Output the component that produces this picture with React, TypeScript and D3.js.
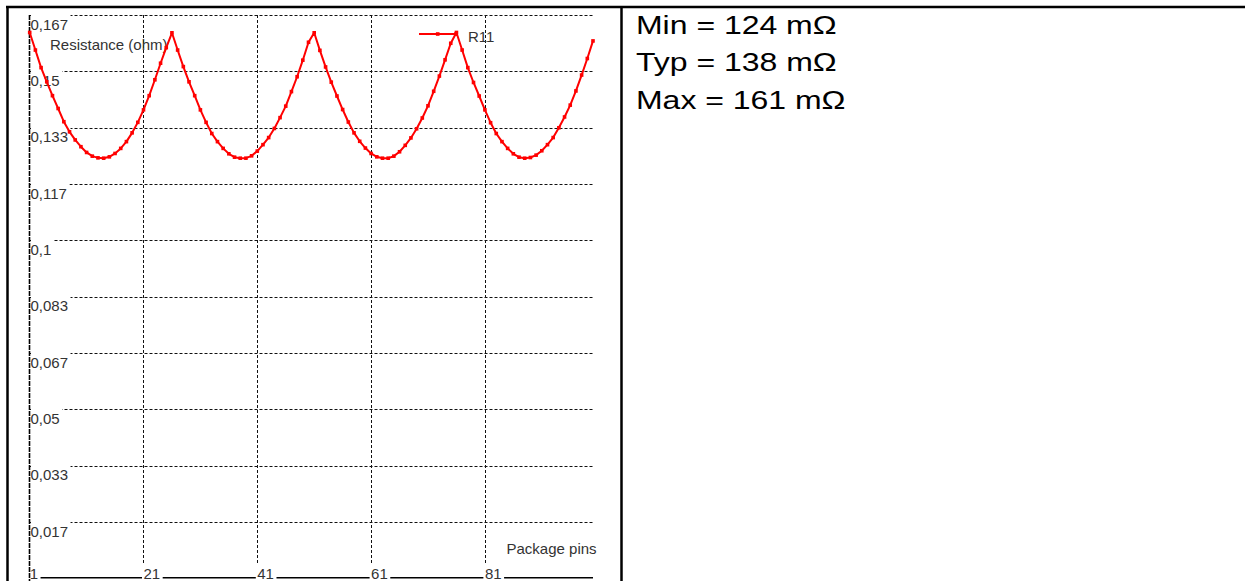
import React from "react";
import * as d3 from "d3";

// ---- data ----
const pins: number[] = [
  1, 2, 3, 4, 5, 6, 7, 8, 9, 10, 11, 12, 13, 14, 15, 16, 17, 18, 19, 20,
  21, 22, 23, 24, 25, 26, 27, 28, 29, 30, 31, 32, 33, 34, 35, 36, 37, 38, 39, 40,
  41, 42, 43, 44, 45, 46, 47, 48, 49, 50, 51, 52, 53, 54, 55, 56, 57, 58, 59, 60,
  61, 62, 63, 64, 65, 66, 67, 68, 69, 70, 71, 72, 73, 74, 75, 76, 77, 78, 79, 80,
  81, 82, 83, 84, 85, 86, 87, 88, 89, 90, 91, 92, 93, 94, 95, 96, 97, 98, 99, 100,
];

const r11: number[] = [
  0.1615, 0.1563, 0.1511, 0.1469, 0.1428, 0.139, 0.1351, 0.1321, 0.1297, 0.1277,
  0.126, 0.1249, 0.1244, 0.1243, 0.1247, 0.1257, 0.1272, 0.1292, 0.1318, 0.1349,
  0.1386, 0.1428, 0.1475, 0.1524, 0.157,
  0.1614, 0.1563, 0.1514, 0.1469, 0.1428, 0.1386, 0.1349, 0.1316, 0.1292, 0.1272,
  0.1256, 0.1246, 0.1243, 0.1243, 0.125, 0.1264, 0.1283, 0.1304, 0.1331, 0.1363,
  0.1397, 0.144, 0.1484, 0.1533, 0.1586,
  0.1614, 0.1562, 0.1513, 0.1468, 0.1427, 0.1387, 0.135, 0.1318, 0.1293, 0.1273,
  0.1257, 0.1247, 0.1243, 0.1243, 0.1249, 0.1262, 0.1281, 0.1303, 0.133, 0.1362,
  0.1398, 0.1441, 0.1486, 0.1534, 0.1583,
  0.1615, 0.1563, 0.1511, 0.1467, 0.1427, 0.1386, 0.1348, 0.1316, 0.1292, 0.1272,
  0.1256, 0.1246, 0.1243, 0.1245, 0.1252, 0.1265, 0.1283, 0.1304, 0.1333, 0.1365,
  0.14, 0.1442, 0.1489, 0.1538, 0.159,
];

const yTickValues: number[] = [
  0.016667, 0.033333, 0.05, 0.066667, 0.083333, 0.1, 0.116667, 0.133333, 0.15, 0.166667,
];
const yTickLabels: string[] = [
  "0,017", "0,033", "0,05", "0,067", "0,083", "0,1", "0,117", "0,133", "0,15", "0,167",
];
const xTickPins: number[] = [1, 21, 41, 61, 81];
const xTickLabels: string[] = ["1", "21", "41", "61", "81"];
const seriesName = "R11";
const yAxisTitle = "Resistance (ohm)";
const xAxisTitle = "Package pins";
const statLines: string[] = ["Min = 124 mΩ", "Typ = 138 mΩ", "Max = 161 mΩ"];

// ---- helpers ----
const FONT = "'Liberation Sans', Arial, sans-serif";
let ctx: CanvasRenderingContext2D | null = null;
function textWidth(s: string, size: number): number {
  if (!ctx) {
    const c = document.createElement("canvas");
    ctx = c.getContext("2d");
  }
  if (!ctx) return s.length * size * 0.55;
  ctx.font = `${size}px 'Liberation Sans', Arial, sans-serif`;
  return ctx.measureText(s).width;
}

export default function App() {
  const W = 1245;
  const H = 581;

  const x = d3.scaleLinear().domain([1, 100]).range([29.7, 593]);
  const y = d3.scaleLinear().domain([0, 0.166667]).range([578.3, 15]);

  const line = d3
    .line<number>()
    .x((_, i) => x(pins[i]))
    .y((d) => y(d));

  const gridRight = 593;
  const axisX = 29.5;
  const textColor = "#333";
  const red = "#ff0000";

  return (
    <svg
      width={W}
      height={H}
      style={{ position: "absolute", left: 0, top: 0, background: "#fff" }}
      fontFamily={FONT}
    >
      <rect x={0} y={0} width={W} height={H} fill="#fff" />

      {/* horizontal grid */}
      {yTickValues.map((v, i) => (
        <line
          key={"hg" + i}
          x1={axisX}
          x2={gridRight}
          y1={Math.round(y(v)) + 0.5}
          y2={Math.round(y(v)) + 0.5}
          stroke="#111"
          strokeWidth={1}
          strokeDasharray="3,2"
        />
      ))}
      {/* vertical grid */}
      {xTickPins.slice(1).map((p, i) => (
        <line
          key={"vg" + i}
          x1={Math.round(x(p)) + 0.5}
          x2={Math.round(x(p)) + 0.5}
          y1={15}
          y2={578}
          stroke="#111"
          strokeWidth={1}
          strokeDasharray="3,2"
        />
      ))}

      {/* x axis base line */}
      <line x1={axisX} x2={gridRight} y1={577.8} y2={577.8} stroke="#000" strokeWidth={1.6} />

      {/* y tick labels with white background */}
      {yTickValues.map((v, i) => {
        const gy = y(v);
        const w = textWidth(yTickLabels[i], 15);
        return (
          <g key={"yl" + i}>
            <rect x={31} y={gy - 2} width={w + 2} height={18} fill="#fff" />
            <text x={30.5} y={gy + 14.8} fontSize={15} fill={textColor}>
              {yTickLabels[i]}
            </text>
          </g>
        );
      })}

      {/* x tick labels with white background */}
      {xTickPins.map((p, i) => {
        const tx = x(p);
        const w = textWidth(xTickLabels[i], 15);
        return (
          <g key={"xl" + i}>
            <rect x={tx - 1.5} y={563} width={w + 4} height={18} fill="#fff" />
            <text x={tx} y={578.5} fontSize={15} fill={textColor}>
              {xTickLabels[i]}
            </text>
          </g>
        );
      })}

      {/* y axis */}
      <line
        x1={axisX}
        x2={axisX}
        y1={15}
        y2={581}
        stroke="#000"
        strokeWidth={1.6}
        strokeDasharray="5,1"
      />

      {/* axis titles */}
      <text x={50} y={49.5} fontSize={15} fill={textColor}>
        {yAxisTitle}
      </text>
      <text x={506.5} y={554} fontSize={15} fill={textColor}>
        {xAxisTitle}
      </text>

      {/* series */}
      <path d={line(r11) || ""} fill="none" stroke={red} strokeWidth={2} strokeLinejoin="round" />
      {r11.map((v, i) => (
        <rect
          key={"m" + i}
          x={x(pins[i]) - 1.8}
          y={y(v) - 1.8}
          width={3.6}
          height={3.6}
          fill={red}
        />
      ))}

      {/* legend */}
      <line x1={419} x2={456} y1={34} y2={34} stroke={red} strokeWidth={2} />
      <rect x={437.7 - 1.8} y={34 - 1.8} width={3.6} height={3.6} fill={red} />
      <rect x={456 - 1.8} y={34 - 1.8} width={3.6} height={3.6} fill={red} />
      <text x={468} y={42} fontSize={15} fill={textColor}>
        {seriesName}
      </text>

      {/* table frame */}
      <line x1={6} x2={W} y1={7} y2={7} stroke="#000" strokeWidth={2.5} />
      <line x1={7.5} x2={7.5} y1={6} y2={H} stroke="#000" strokeWidth={2.5} />
      <line x1={621.5} x2={621.5} y1={6} y2={H} stroke="#000" strokeWidth={2.5} />

      {/* stats text */}
      {statLines.map((s, i) => (
        <text
          key={"st" + i}
          transform={`translate(636, ${33.5 + i * 37.5}) scale(1.23, 1)`}
          fontSize={26}
          fill="#000"
        >
          {s}
        </text>
      ))}
    </svg>
  );
}
